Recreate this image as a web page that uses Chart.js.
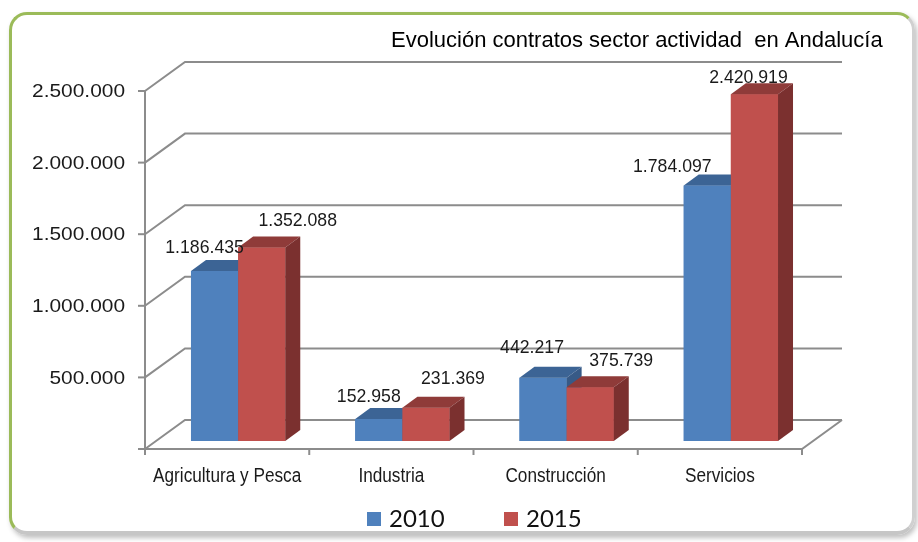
<!DOCTYPE html>
<html><head><meta charset="utf-8">
<script src="https://cdn.jsdelivr.net/npm/chart.js@4.4.1/dist/chart.umd.min.js"></script>
<style>
html,body{margin:0;padding:0;background:#fff;width:918px;height:542px;overflow:hidden;}
#frame{position:absolute;left:9px;top:12px;width:900px;height:516px;border-left:3px solid #9bbb59;border-top:3px solid #9bbb59;border-right:3px solid #d0d0d0;border-bottom:4px solid #c6c6c6;border-radius:18px;box-shadow:2px 3px 5px rgba(0,0,0,0.25);}
#wrap{position:absolute;left:0;top:0;width:918px;height:542px;}
</style></head>
<body><div id="frame"></div><div id="wrap"><canvas id="c" width="918" height="542"></canvas></div>
<script>
const titleText = 'Evolución contratos sector actividad  en Andalucía';
const categories = ['Agricultura y Pesca', 'Industria', 'Construcción', 'Servicios'];
const seriesNames = ['2010', '2015'];
const values2010 = [1186435, 152958, 442217, 1784097];
const values2015 = [1352088, 231369, 375739, 2420919];
const yTicks = [0, 500000, 1000000, 1500000, 2000000, 2500000];
const yTickLabels = ['', '500.000', '1.000.000', '1.500.000', '2.000.000', '2.500.000'];

const fmt = v => String(Math.round(v)).replace(/\B(?=(\d{3})+(?!\d))/g, '.');

const COLORS = ['#4f81bd', '#c0504d'];
const FACES = [{top: '#3c6495', side: '#375a87'}, {top: '#8f3b39', side: '#7b302f'}];
const FDX = -11, FDY = 8, BDX = 29, BDY = -21, DDX = 15, DDY = -11;
const SANS = "'Liberation Sans',Arial,sans-serif";
// per-bar label nudges (styling only)
const labelShift = [[[-10, 23], [36, 27]], [[-10, 22], [27, 29]], [[-11, 30], [31, 26]], [[-35, 19], [-6, 17]]];

function sText(ctx, text, x, y, sx) {
  ctx.save();
  ctx.translate(x, y);
  ctx.scale(sx, 1);
  ctx.fillText(text, 0, 0);
  ctx.restore();
}

const threeD = {
  id: 'threeD',
  beforeDatasetsDraw(chart) {
    const ctx = chart.ctx, xs = chart.scales.x, ys = chart.scales.y, a = chart.chartArea;
    const L = a.left, R = a.right;
    ctx.save();
    ctx.strokeStyle = '#8c8c8c'; ctx.lineWidth = 2; ctx.lineJoin = 'miter';
    yTicks.forEach(v => {
      const y = ys.getPixelForValue(v);
      ctx.beginPath();
      ctx.moveTo(L + FDX, y + FDY); ctx.lineTo(L + BDX, y + BDY); ctx.lineTo(R + BDX, y + BDY);
      ctx.stroke();
      ctx.beginPath(); ctx.moveTo(L + FDX - 7, y + FDY); ctx.lineTo(L + FDX, y + FDY); ctx.stroke();
    });
    const y0 = ys.getPixelForValue(0);
    const yTop = ys.getPixelForValue(yTicks[yTicks.length - 1]);
    ctx.beginPath();
    ctx.moveTo(L + FDX, y0 + FDY); ctx.lineTo(R + FDX, y0 + FDY); ctx.lineTo(R + BDX, y0 + BDY);
    ctx.stroke();
    ctx.beginPath(); ctx.moveTo(L + FDX, yTop + FDY); ctx.lineTo(L + FDX, y0 + FDY); ctx.stroke();
    const n = categories.length;
    for (let i = 0; i <= n; i++) {
      let x;
      if (i === 0) x = L; else if (i === n) x = R;
      else x = (xs.getPixelForValue(i - 1) + xs.getPixelForValue(i)) / 2;
      ctx.beginPath(); ctx.moveTo(x + FDX, y0 + FDY); ctx.lineTo(x + FDX, y0 + FDY + 6); ctx.stroke();
    }
    // y tick labels
    ctx.fillStyle = '#1a1a1a';
    ctx.font = '19px ' + SANS;
    ctx.textAlign = 'right'; ctx.textBaseline = 'middle';
    yTicks.forEach((v, i) => {
      const y = ys.getPixelForValue(v);
      sText(ctx, yTickLabels[i], L + FDX - 20, y + FDY + 1, 1.1);
    });
    // category labels
    ctx.font = '20px ' + SANS;
    ctx.textAlign = 'center';
    categories.forEach((c, i) => {
      sText(ctx, c, xs.getPixelForValue(i) + FDX, y0 + FDY + 27, 0.86);
    });
    ctx.restore();
  },
  afterDatasetsDraw(chart) {
    const ctx = chart.ctx;
    ctx.save();
    const metas = chart.data.datasets.map((d, di) => chart.getDatasetMeta(di));
    categories.forEach((c, i) => {
      metas.forEach((meta, di) => {
        const bar = meta.data[i];
        bar.draw(ctx, chart.chartArea);
        const p = bar.getProps(['x', 'y', 'width', 'base'], true);
        const l = p.x - p.width / 2, r = p.x + p.width / 2, t = p.y, b = p.base;
        ctx.fillStyle = FACES[di].top;
        ctx.beginPath();
        ctx.moveTo(l, t); ctx.lineTo(l + DDX, t + DDY); ctx.lineTo(r + DDX, t + DDY); ctx.lineTo(r, t);
        ctx.closePath(); ctx.fill();
        ctx.fillStyle = FACES[di].side;
        ctx.beginPath();
        ctx.moveTo(r, t); ctx.lineTo(r + DDX, t + DDY); ctx.lineTo(r + DDX, b + DDY); ctx.lineTo(r, b);
        ctx.closePath(); ctx.fill();
      });
    });
    // value labels
    ctx.fillStyle = '#1a1a1a';
    ctx.font = '19px ' + SANS;
    ctx.textAlign = 'center'; ctx.textBaseline = 'middle';
    chart.data.datasets.forEach((ds, di) => {
      metas[di].data.forEach((bar, i) => {
        const p = bar.getProps(['x', 'y'], true);
        const s = labelShift[i][di];
        sText(ctx, fmt(ds.data[i]), p.x + s[0], p.y - s[1], 0.93);
      });
    });
    ctx.restore();
  },
  afterDraw(chart) {
    const ctx = chart.ctx;
    ctx.save();
    ctx.fillStyle = '#000';
    ctx.font = '22px ' + SANS;
    ctx.textAlign = 'left'; ctx.textBaseline = 'alphabetic';
    ctx.fillText(titleText, 391, 47);
    // legend
    ctx.font = "24px Lato, 'Liberation Sans', sans-serif";
    ctx.textBaseline = 'middle';
    const lx = [367, 504];
    seriesNames.forEach((s, i) => {
      ctx.fillStyle = COLORS[i];
      ctx.fillRect(lx[i], 512, 14, 14);
      ctx.fillStyle = '#111';
      ctx.fillText(s, lx[i] + 22, 519);
    });
    ctx.restore();
  }
};

new Chart(document.getElementById('c'), {
  type: 'bar',
  data: {
    labels: categories,
    datasets: [
      {label: seriesNames[0], data: values2010, backgroundColor: COLORS[0], borderWidth: 0,
       categoryPercentage: 0.574, barPercentage: 1},
      {label: seriesNames[1], data: values2015, backgroundColor: COLORS[1], borderWidth: 0,
       categoryPercentage: 0.574, barPercentage: 1}
    ]
  },
  options: {
    responsive: false,
    animation: false,
    layout: {padding: {left: 156, right: 105, top: 83, bottom: 101}},
    plugins: {legend: {display: false}, title: {display: false}, tooltip: {enabled: false}},
    scales: {
      x: {display: false},
      y: {display: false, min: 0, max: 2500000}
    }
  },
  plugins: [threeD]
});
</script>
</body></html>
